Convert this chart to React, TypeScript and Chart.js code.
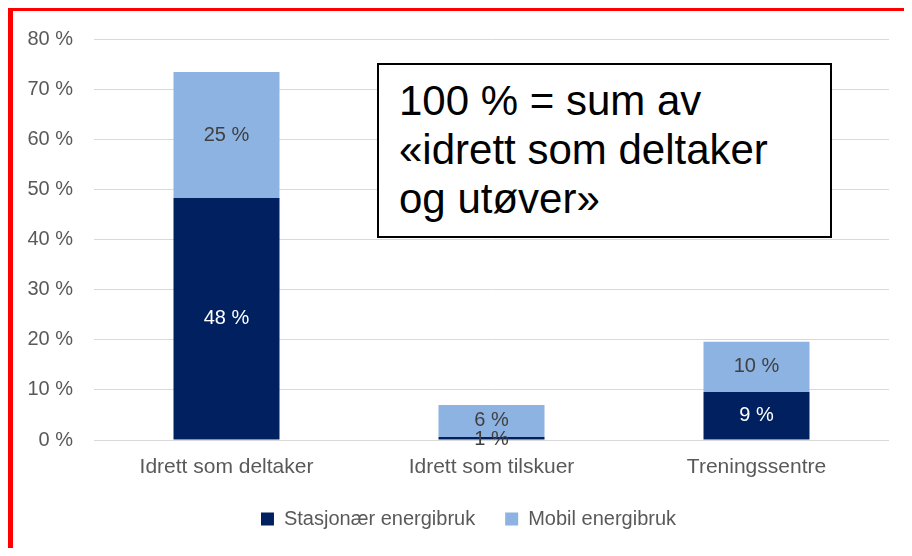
import React, { useEffect, useRef } from "react";
import { Chart, registerables } from "chart.js";

Chart.register(...registerables);

const categories = ["Idrett som deltaker", "Idrett som tilskuer", "Treningssentre"];
const stationary = [48.3, 0.6, 9.6];
const mobile = [25.1, 6.4, 10.0];
const stationaryLabels = ["48 %", "1 %", "9 %"];
const mobileLabels = ["25 %", "6 %", "10 %"];
const seriesNames = ["Stasjonær energibruk", "Mobil energibruk"];
const yTicks = [0, 10, 20, 30, 40, 50, 60, 70, 80];
const noteLines = ["100 % = sum av", "«idrett som deltaker", "og utøver»"];

const DARK = "#002060";
const LIGHT = "#8db3e2";
const TEXT = "#595959";
const FONT = "'Liberation Sans', Arial, sans-serif";

const labelPlugin = {
  id: "barLabels",
  afterLayout(chart: any) {
    if (chart.legend) {
      chart.legend.left += 24;
      chart.legend.right += 24;
    }
  },
  afterDatasetsDraw(chart: any) {
    const ctx = chart.ctx;
    ctx.save();
    ctx.font = `20px ${FONT}`;
    ctx.textAlign = "center";
    ctx.textBaseline = "middle";
    chart.data.datasets.forEach((ds: any, di: number) => {
      const meta = chart.getDatasetMeta(di);
      meta.data.forEach((bar: any, i: number) => {
        const txt = di === 0 ? stationaryLabels[i] : mobileLabels[i];
        const small = Math.abs(bar.base - bar.y) < 10;
        ctx.fillStyle = di === 0 && !small ? "#ffffff" : "#404040";
        ctx.fillText(txt, bar.x, (bar.y + bar.base) / 2 + (small ? 1 : 0));
      });
    });
    ctx.restore();
  },
};

export default function App() {
  const ref = useRef<HTMLCanvasElement>(null);
  useEffect(() => {
    if (!ref.current) return;
    const chart = new Chart(ref.current, {
      type: "bar",
      data: {
        labels: categories,
        datasets: [
          { label: seriesNames[0], data: stationary, backgroundColor: DARK, borderWidth: 0 },
          { label: seriesNames[1], data: mobile, backgroundColor: LIGHT, borderWidth: 0 },
        ],
      },
      options: {
        responsive: false,
        animation: false,
        layout: { padding: { left: 0, right: 23, top: 39, bottom: 17 } },
        datasets: { bar: { categoryPercentage: 1, barPercentage: 0.4 } },
        scales: {
          x: {
            stacked: true,
            grid: { display: false },
            border: { display: false },
            ticks: { color: TEXT, font: { family: FONT, size: 21 }, padding: 7 },
            afterFit: (s: any) => { s.height = 39; },
          },
          y: {
            stacked: true,
            min: 0,
            max: 80,
            afterBuildTicks: (s: any) => { s.ticks = yTicks.map((v) => ({ value: v })); },
            grid: { color: "#d9d9d9", drawTicks: false, lineWidth: 1 },
            border: { display: false },
            ticks: {
              color: TEXT,
              font: { family: FONT, size: 20 },
              padding: 21,
              callback: (v: any) => `${v} %`,
            },
            afterFit: (s: any) => { s.width = 94; },
          },
        },
        plugins: {
          legend: {
            position: "bottom",
            labels: {
              color: TEXT,
              font: { family: FONT, size: 20 },
              boxWidth: 13,
              boxHeight: 13,
              padding: 30,
            },
          },
          tooltip: { enabled: false },
        },
      },
      plugins: [labelPlugin],
    });
    return () => chart.destroy();
  }, []);

  return (
    <div style={{ position: "relative", width: 912, height: 556, margin: -8, background: "#eeeeee", overflow: "hidden" }}>
      <div
        style={{
          position: "absolute",
          left: 8,
          top: 6,
          width: 920,
          height: 545,
          background: "#ffffff",
          borderLeft: "5px solid #ff0000",
          borderTop: "5px solid #ff0000",
          borderBottom: "2px solid #e05050",
        }}
      />
      <canvas ref={ref} width={912} height={556} style={{ position: "absolute", left: 0, top: 0 }} />
      <div
        style={{
          position: "absolute",
          left: 377,
          top: 63,
          width: 455,
          height: 175,
          border: "2px solid #000",
          background: "#fff",
          fontFamily: FONT,
          fontSize: 42,
          lineHeight: "49px",
          color: "#000",
          paddingLeft: 20,
          paddingTop: 11,
          boxSizing: "border-box",
        }}
      >
        {noteLines.map((l, i) => (
          <div key={i} style={{ whiteSpace: "nowrap" }}>{l}</div>
        ))}
      </div>
    </div>
  );
}
